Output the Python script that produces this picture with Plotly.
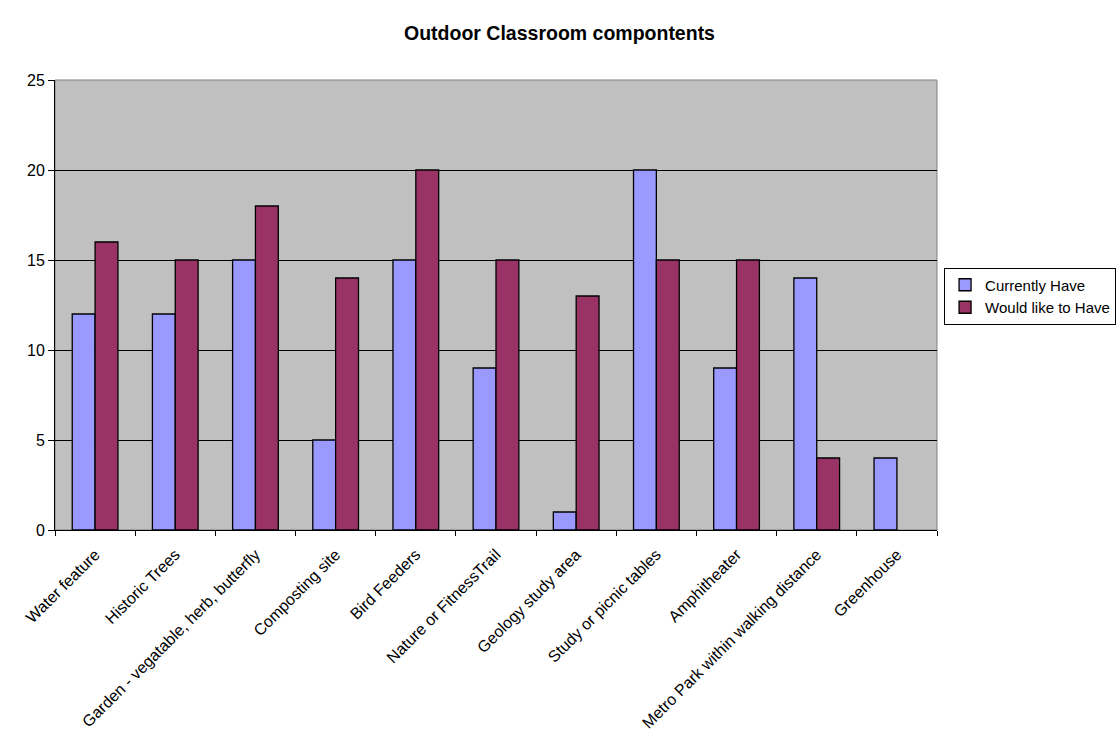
import plotly.graph_objects as go

categories = ["Water feature", "Historic Trees", "Garden - vegatable, herb, butterfly",
              "Composting site", "Bird Feeders", "Nature or FitnessTrail",
              "Geology study area", "Study or picnic tables", "Amphitheater",
              "Metro Park within walking distance", "Greenhouse"]
currently_have = [12, 12, 15, 5, 15, 9, 1, 20, 9, 14, 4]
would_like = [16, 15, 18, 14, 20, 15, 13, 15, 15, 4, None]

fig = go.Figure()
fig.add_trace(go.Bar(x=categories, y=currently_have, name="Currently Have",
                     marker=dict(color="#9999FF", line=dict(color="black", width=1.3))))
fig.add_trace(go.Bar(x=categories, y=would_like, name="Would like to Have",
                     marker=dict(color="#993366", line=dict(color="black", width=1.3))))

fig.update_layout(
    width=1119, height=738,
    margin=dict(l=55, r=182, t=80, b=208, autoexpand=False),
    paper_bgcolor="white", plot_bgcolor="#C0C0C0",
    font=dict(family="Liberation Sans, Arial, sans-serif", size=16, color="black"),
    title=dict(text="<b>Outdoor Classroom compontents</b>", x=0.5, xanchor="center",
               y=1 - 33/738, yanchor="middle", font=dict(size=19.5)),
    barmode="group", bargap=0.43, bargroupgap=0,
    legend=dict(x=1.008, y=0.52, xanchor="left", yanchor="middle",
                bordercolor="black", borderwidth=1, bgcolor="white",
                font=dict(size=15), itemwidth=30, tracegroupgap=0),
    showlegend=True,
)
fig.update_xaxes(type="category", tickangle=-45, showgrid=False, ticks="outside",
                 tickson="boundaries", ticklen=5, tickcolor="black",
                 showline=True, linecolor="black", linewidth=1, tickfont=dict(size=16),
                 ticklabelstandoff=8)
fig.update_yaxes(range=[0, 25], dtick=5, showgrid=True, gridcolor="black", gridwidth=1,
                 ticks="outside", ticklen=6, tickcolor="black", showline=True,
                 linecolor="black", linewidth=1, zeroline=False, tickfont=dict(size=16))
fig.add_shape(type="rect", xref="paper", yref="paper", x0=0, y0=0, x1=1, y1=1,
              line=dict(color="#808080", width=1), layer="below")
fig.write_html("out.html")
